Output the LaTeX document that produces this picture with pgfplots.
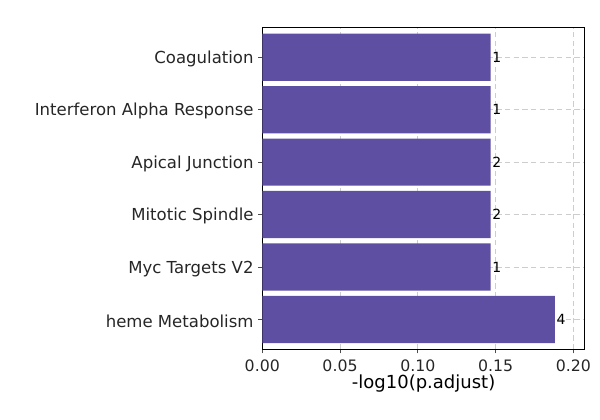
\documentclass[border=0pt]{standalone}
\usepackage{pgfplots}
\pgfplotsset{compat=1.18}
\usepackage{fontspec}
\setmainfont{DejaVu Sans}
\definecolor{barpurple}{RGB}{94,79,162}
\definecolor{gridgray}{RGB}{205,205,205}
\begin{document}
\begin{tikzpicture}
\path[use as bounding box] (-196.7pt,-53pt) rectangle (253.3pt,262pt);
\begin{axis}[
  at={(0,0)}, anchor=south west,
  scale only axis,
  width=242pt, height=241.5pt,
  xmin=0, xmax=0.2075,
  ymin=-0.57, ymax=5.57,
  xbar, bar width=0.9, bar shift=0pt,
  ytick={0,1,2,3,4,5},
  yticklabels={heme Metabolism,Myc Targets V2,Mitotic Spindle,Apical Junction,Interferon Alpha Response,Coagulation},
  xtick={0,0.05,0.10,0.15,0.20},
  /pgf/number format/assume math mode=true,
  xticklabel style={/pgf/number format/fixed,/pgf/number format/fixed zerofill,/pgf/number format/precision=2, font=\fontsize{11.8}{13}\selectfont, text=black!85, yshift=-1.5pt},
  yticklabel style={font=\fontsize{12.4}{14}\selectfont, text=black!85, yshift=-1.2pt},
  scaled x ticks=false,
  tick pos=left,
  tick align=outside,
  major tick length=3pt,
  tick style={black!70, line width=0.6pt},
  axis line style={black, line width=0.8pt},
  grid=major,
  major grid style={gridgray, dash pattern=on 4pt off 2.5pt, line width=0.7pt},
  xlabel={-log10(p.adjust)},
  xlabel style={font=\fontsize{13.5}{15}\selectfont, yshift=5pt},
  point meta=explicit symbolic,
  nodes near coords={\pgfplotspointmeta},
  nodes near coords style={anchor=west, inner sep=1pt, font=\fontsize{10.5}{12}\selectfont, text=black},
]
\addplot[fill=barpurple, draw=none] table[x=v, y=y, meta=c] {
v y c
0.1882 0 4
0.1469 1 1
0.1469 2 2
0.1469 3 2
0.1469 4 1
0.1469 5 1
};
\end{axis}
\end{tikzpicture}
\end{document}
